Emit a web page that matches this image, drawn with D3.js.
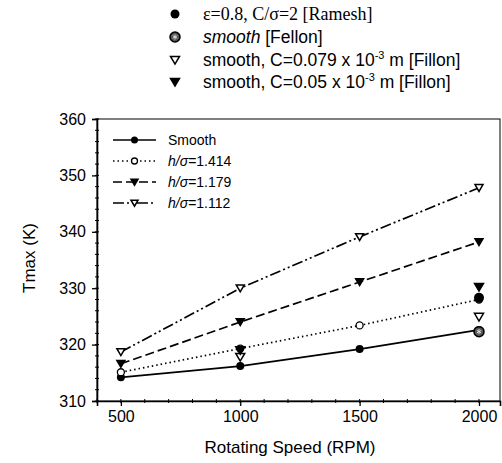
<!DOCTYPE html>
<html>
<head>
<meta charset="utf-8">
<script src="https://cdn.jsdelivr.net/npm/d3@7"></script>
<style>
  body { margin: 0; background: #fff; }
  svg text { font-family: Arial, "Liberation Sans", sans-serif; fill: #000; }
</style>
</head>
<body>
<svg id="chart" width="502" height="463"></svg>
<script>
// model curves
var speeds = [500, 1000, 1500, 2000];
var smooth = [314.2, 316.2, 319.2, 322.6];
var h1414 = [315.1, 319.3, 323.4, 328.0];
var h1179 = [316.6, 324.0, 331.1, 338.2];
var h1112 = [318.7, 330.0, 339.1, 347.8];

// reference points
var rameshX = [2000], rameshY = [328.3];
var fellonX = [2000], fellonY = [322.3];
var fillon079X = [1000, 2000], fillon079Y = [317.8, 324.9];
var fillon05X = [1000, 2000], fillon05Y = [319.0, 330.2];

var xTicks = [500, 1000, 1500, 2000];
var yTicks = [310, 320, 330, 340, 350, 360];

var svg = d3.select("#chart");
var x = d3.scaleLinear().domain([400, 2088]).range([97, 500]);
var y = d3.scaleLinear().domain([310, 360]).range([401, 119]);

// frame
svg.append("rect")
  .attr("x", x(400)).attr("y", y(360))
  .attr("width", x(2088) - x(400)).attr("height", y(310) - y(360))
  .attr("fill", "none").attr("stroke", "#000").attr("stroke-width", 1);

var xAxis = svg.append("g").attr("transform", "translate(0," + y(310) + ")")
  .call(d3.axisBottom(x).tickValues(xTicks).tickSize(5).tickPadding(5).tickFormat(d3.format("d")));
xAxis.append("g").selectAll("line").data(d3.range(400, 2088, 100)).enter().append("line")
  .attr("x1", function(d) { return x(d); }).attr("x2", function(d) { return x(d); })
  .attr("y1", -2).attr("y2", 2).attr("stroke", "#000");

var yAxis = svg.append("g").attr("transform", "translate(" + x(400) + ",0)")
  .call(d3.axisLeft(y).tickValues(yTicks).tickSize(5).tickPadding(6));
yAxis.append("g").selectAll("line").data(d3.range(310, 361, 2)).enter().append("line")
  .attr("y1", function(d) { return y(d); }).attr("y2", function(d) { return y(d); })
  .attr("x1", -2).attr("x2", 2).attr("stroke", "#000");

svg.selectAll(".domain").attr("stroke", "#000").attr("stroke-width", 1.6);
svg.selectAll(".tick line").attr("stroke-width", 1.3);
svg.selectAll(".tick text").style("font-size", "16px");

svg.append("text").attr("x", 290).attr("y", 453).attr("text-anchor", "middle")
  .style("font-size", "17px").text("Rotating Speed (RPM)");
svg.append("text").attr("transform", "translate(35,258) rotate(-90)").attr("text-anchor", "middle")
  .style("font-size", "17px").text("Tmax (K)");

// marker drawing
function marker(g, type, cx, cy, s) {
  s = s || 4.5;
  if (type === "circle") {
    g.append("circle").attr("cx", cx).attr("cy", cy).attr("r", s).attr("fill", "#000");
  } else if (type === "ocircle") {
    g.append("circle").attr("cx", cx).attr("cy", cy).attr("r", s - 0.5).attr("fill", "#fff")
      .attr("stroke", "#000").attr("stroke-width", 1.3);
  } else if (type === "tri" || type === "otri") {
    var p = [[cx - s, cy - s * 0.8], [cx + s, cy - s * 0.8], [cx, cy + s * 0.9]];
    g.append("path").attr("d", d3.line()(p) + "Z")
      .attr("fill", type === "tri" ? "#000" : "#fff")
      .attr("stroke", "#000").attr("stroke-width", 1.5);
  } else if (type === "fellon") {
    g.append("circle").attr("cx", cx).attr("cy", cy).attr("r", s + 0.5).attr("fill", "#555")
      .attr("stroke", "#000").attr("stroke-width", 1.5);
    g.append("path").attr("d", d3.symbol().type(d3.symbolAsterisk).size(s * 4)())
      .attr("transform", "translate(" + cx + "," + cy + ")")
      .attr("stroke", "#ddd").attr("stroke-width", 1).attr("fill", "none");
  }
}

var series = [
  { name: "Smooth", vals: smooth, dash: null, m: "circle", italic: false },
  { name: "1.414", vals: h1414, dash: "1.5,3", m: "ocircle", italic: true },
  { name: "1.179", vals: h1179, dash: "9,4", m: "tri", italic: true },
  { name: "1.112", vals: h1112, dash: "11,3,2,3,2,3", m: "otri", italic: true }
];

var line = d3.line().x(function(d) { return x(d[0]); }).y(function(d) { return y(d[1]); });

series.forEach(function(s) {
  var pts = speeds.map(function(v, i) { return [v, s.vals[i]]; });
  svg.append("path").attr("d", line(pts)).attr("fill", "none")
    .attr("stroke", "#000").attr("stroke-width", 1.7)
    .attr("stroke-dasharray", s.dash);
  var g = svg.append("g");
  pts.forEach(function(p) { marker(g, s.m, x(p[0]), y(p[1]), 4); });
});

// reference data points
var gr = svg.append("g");
fillon079X.forEach(function(v, i) { marker(gr, "otri", x(v), y(fillon079Y[i]), 4.5); });
fillon05X.forEach(function(v, i) { marker(gr, "tri", x(v), y(fillon05Y[i]), 4.5); });
rameshX.forEach(function(v, i) { marker(gr, "circle", x(v), y(rameshY[i]), 5); });
fellonX.forEach(function(v, i) { marker(gr, "fellon", x(v), y(fellonY[i]), 4.5); });

// inner legend
var lg = svg.append("g");
series.forEach(function(s, i) {
  var ly = 140 + i * 21;
  lg.append("line").attr("x1", 113).attr("x2", 156).attr("y1", ly).attr("y2", ly)
    .attr("stroke", "#000").attr("stroke-width", 1.6).attr("stroke-dasharray", s.dash);
  marker(lg, s.m, 134.5, ly, 3.5);
  var t = lg.append("text").attr("x", 168).attr("y", ly + 5).style("font-size", "14px");
  if (s.italic) {
    t.append("tspan").style("font-style", "italic").text("h/σ");
    t.append("tspan").text("=" + s.name);
  } else {
    t.text(s.name);
  }
});

// top legend
var tl = svg.append("g");
var rows = [
  { m: "circle", y: 14 },
  { m: "fellon", y: 37 },
  { m: "otri", y: 60 },
  { m: "tri", y: 82 }
];
rows.forEach(function(r) { marker(tl, r.m, 175, r.y, 4.5); });

tl.append("text").attr("x", 203).attr("y", 20)
  .style("font-family", "'Liberation Serif', 'Times New Roman', serif").style("font-size", "18px")
  .text("ε=0.8, C/σ=2 [Ramesh]");
tl.append("text").attr("x", 203).attr("y", 43).style("font-size", "17.5px")
  .html('<tspan font-style="italic">smooth</tspan> [Fellon]');
[["0.079", 66], ["0.05", 88]].forEach(function(d) {
  var t = tl.append("text").attr("x", 203).attr("y", d[1]).style("font-size", "17.5px");
  t.append("tspan").text("smooth, C=" + d[0] + " x 10");
  t.append("tspan").attr("dy", -7).style("font-size", "11px").text("-3");
  t.append("tspan").attr("dy", 7).text(" m [Fillon]");
});
</script>
</body>
</html>
